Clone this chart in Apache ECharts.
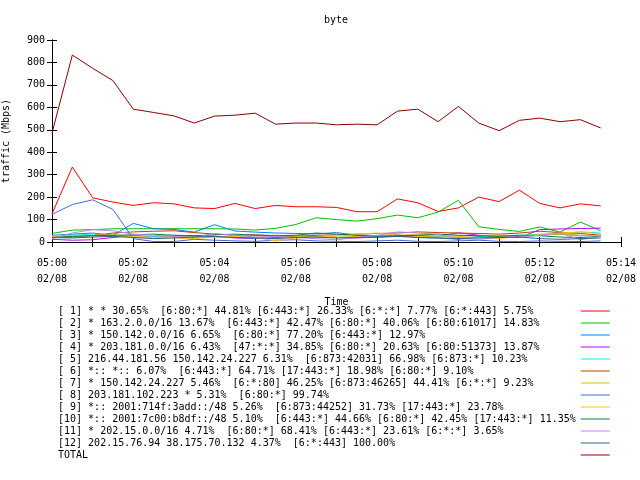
<!DOCTYPE html>
<html><head><meta charset="utf-8">
<script src="https://cdn.jsdelivr.net/npm/echarts@6/dist/echarts.min.js"></script>
<style>html,body{margin:0;padding:0;background:#fff}#c{width:640px;height:480px}</style>
</head><body><div id="c"></div>
<script>
const minutes = [0,0.5,1,1.5,2,2.5,3,3.5,4,4.5,5,5.5,6,6.5,7,7.5,8,8.5,9,9.5,10,10.5,11,11.5,12,12.5,13,13.5];
const xTickLabels = {0:'05:00',2:'05:02',4:'05:04',6:'05:06',8:'05:08',10:'05:10',12:'05:12',14:'05:14'};
const dateLabel = '02/08';
const names = [
 '[ 1] * * 30.65%  [6:80:*] 44.81% [6:443:*] 26.33% [6:*:*] 7.77% [6:*:443] 5.75%',
 '[ 2] * 163.2.0.0/16 13.67%  [6:443:*] 42.47% [6:80:*] 40.06% [6:80:61017] 14.83%',
 '[ 3] * 150.142.0.0/16 6.65%  [6:80:*] 77.20% [6:443:*] 12.97%',
 '[ 4] * 203.181.0.0/16 6.43%  [47:*:*] 34.85% [6:80:*] 20.63% [6:80:51373] 13.87%',
 '[ 5] 216.44.181.56 150.142.24.227 6.31%  [6:873:42031] 66.98% [6:873:*] 10.23%',
 '[ 6] *:: *:: 6.07%  [6:443:*] 64.71% [17:443:*] 18.98% [6:80:*] 9.10%',
 '[ 7] * 150.142.24.227 5.46%  [6:*:80] 46.25% [6:873:46265] 44.41% [6:*:*] 9.23%',
 '[ 8] 203.181.102.223 * 5.31%  [6:80:*] 99.74%',
 '[ 9] *:: 2001:714f:3add::/48 5.26%  [6:873:44252] 31.73% [17:443:*] 23.78%',
 '[10] *:: 2001:7c00:b8df::/48 5.10%  [6:443:*] 44.66% [6:80:*] 42.45% [17:443:*] 11.35%',
 '[11] * 202.15.0.0/16 4.71%  [6:80:*] 68.41% [6:443:*] 23.61% [6:*:*] 3.65%',
 '[12] 202.15.76.94 38.175.70.132 4.37%  [6:*:443] 100.00%',
 'TOTAL'
];
const colors = ['#ff0000','#00c000','#0080ff','#c000ff','#00eeee','#c04000','#c8c800','#4169e1','#ffc020','#008040','#c080ff','#306080','#8b0000'];
const s1  = [125,334,197,178,163,175,170,152,149,172,149,163,157,157,154,135,135,192,175,136,152,200,180,231,172,152,170,161];
const s2  = [38,53,55,59,59,59,59,59,59,58,53,61,78,108,100,93,104,120,108,133,186,68,56,47,67,44,89,50];
const s3  = [30,35,40,30,83,59,56,44,77,49,44,40,38,36,42,30,28,32,20,18,12,25,20,22,30,35,28,30];
const s4  = [12,8,10,20,30,22,25,28,25,18,15,20,25,22,20,18,22,25,28,26,41,30,25,20,55,58,60,62];
const s5  = [25,30,35,30,28,25,30,25,22,20,18,25,28,25,20,22,25,28,30,25,20,22,28,30,35,38,45,40];
const s6  = [20,22,28,40,45,48,50,42,35,30,32,28,25,30,32,35,38,40,45,42,40,38,35,40,48,42,38,30];
const s7  = [20,25,28,25,22,20,25,22,20,25,28,30,25,22,20,25,28,30,25,22,28,30,25,28,32,35,30,28];
const s8  = [123,167,188,145,15,2,2,12,8,5,3,8,10,5,3,2,5,8,3,2,5,8,3,2,5,3,2,5];
const s9  = [25,28,30,32,25,20,18,15,22,25,20,5,18,22,25,35,40,30,35,28,25,20,15,25,30,40,45,35];
const s10 = [20,25,28,30,32,35,30,28,32,35,30,28,30,40,35,30,25,28,30,35,30,28,25,30,28,22,20,25];
const s11 = [15,40,55,50,35,30,25,20,38,30,22,25,20,15,10,20,30,45,40,35,15,12,20,25,30,40,10,25];
const s12 = [20,18,22,25,20,15,18,22,25,20,18,15,20,22,18,20,22,25,20,18,15,18,20,22,15,12,15,18];
const total = [485,833,774,719,592,577,562,530,561,565,574,525,530,530,522,525,522,583,592,536,604,530,496,542,552,536,545,508];
const allSeries = [s1,s2,s3,s4,s5,s6,s7,s8,s9,s10,s11,s12,total];

const FONT = 'DejaVu Sans Mono';
const chart = echarts.init(document.getElementById('c'), null, {renderer:'canvas'});
const axisBase = {
  type:'value', min:0, max:14, interval:1,
  axisLine:{show:true, lineStyle:{color:'#000', width:1}},
  axisTick:{show:true, inside:true, length:5, lineStyle:{color:'#000'}},
  splitLine:{show:false}
};
chart.setOption({
  animation:false,
  backgroundColor:'#fff',
  color: colors,
  graphic:[{type:'text', x:336, y:20, style:{text:'byte', fontFamily:FONT, fontSize:10, fill:'#000', textAlign:'center', textVerticalAlign:'middle'}}],
  grid:{left:52, right:19, top:40, bottom:238, containLabel:false, outerBoundsMode:'none'},
  legend:{
    orient:'vertical', left:58, top:306, padding:0, align:'right', selectedMode:false,
    itemWidth:29, itemHeight:11, itemGap:2,
    icon:'path://M0,0H29V1H0Z',
    formatter: n => n.padEnd(86, ' '),
    textStyle:{fontFamily:FONT, fontSize:10, color:'#000'}
  },
  xAxis:[
    Object.assign({}, axisBase, {
      position:'bottom', name:'Time', nameLocation:'middle', nameGap:55,
      nameTextStyle:{fontFamily:FONT, fontSize:10, color:'#000'},
      axisLabel:{show:true, margin:13, lineHeight:16, fontFamily:FONT, fontSize:10, color:'#000',
        formatter: v => xTickLabels[v] ? xTickLabels[v] + '\n' + dateLabel : ''}
    }),
    Object.assign({}, axisBase, {position:'top', axisLabel:{show:false}})
  ],
  yAxis:[
    {type:'value', min:0, max:900, interval:100, position:'left',
     name:'traffic (Mbps)', nameLocation:'middle', nameGap:41, nameRotate:90,
     nameTextStyle:{fontFamily:FONT, fontSize:10, color:'#000'},
     axisLine:{show:true, lineStyle:{color:'#000'}},
     axisTick:{show:true, inside:true, length:5, lineStyle:{color:'#000'}},
     axisLabel:{margin:7, fontFamily:FONT, fontSize:10, color:'#000'},
     splitLine:{show:false}},
    {type:'value', min:0, max:900, interval:100, position:'right',
     axisLine:{show:true, lineStyle:{color:'#000'}},
     axisTick:{show:true, inside:true, length:5, lineStyle:{color:'#000'}},
     axisLabel:{show:false}, splitLine:{show:false}}
  ],
  series: allSeries.map((vals, i) => ({
    name: names[i], type:'line', symbol:'none', showSymbol:false,
    data: vals.map((v, k) => [minutes[k], v]),
    lineStyle:{width:1, color:colors[i]}, itemStyle:{color:colors[i]},
    emphasis:{disabled:true}
  }))
});
</script></body></html>
